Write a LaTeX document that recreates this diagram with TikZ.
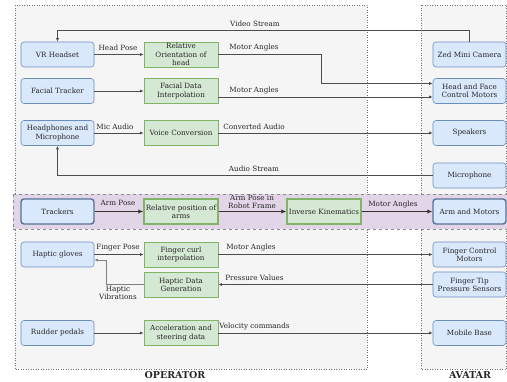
\documentclass[tikz,border=0pt]{standalone}
\usepackage{fontspec}
\setmainfont{DejaVu Serif}
\usetikzlibrary{arrows.meta,calc}
\definecolor{bfill}{HTML}{DAE8FC}
\definecolor{bdraw}{HTML}{6C8EBF}
\definecolor{gfill}{HTML}{D5E8D4}
\definecolor{gdraw}{HTML}{82B366}
\definecolor{pfill}{HTML}{E1D5E7}
\definecolor{panelfill}{HTML}{F5F5F5}
\definecolor{linec}{HTML}{4D4D4D}
\tikzset{
  every node/.style={font=\fontsize{7.2}{8.2}\selectfont, align=center, text=black!85},
  bluebox/.style={draw=bdraw, fill=bfill, rounded corners=3pt, minimum width=73pt, minimum height=25pt, inner sep=0pt, line width=0.6pt},
  greenbox/.style={draw=gdraw, fill=gfill, minimum width=74pt, minimum height=25pt, inner sep=0pt, line width=0.6pt},
  thickblue/.style={bluebox, draw=bdraw!80!black, line width=1.4pt},
  thickgreen/.style={greenbox, line width=1.4pt},
  arr/.style={draw=linec, line width=0.7pt, -{Latex[length=3.5pt,width=3pt]}},
  thickarr/.style={draw=black!80, line width=1.5pt, -{Latex[length=5pt,width=4.5pt]}},
  lightarr/.style={draw=black!50, line width=0.8pt, -{Latex[length=3.5pt,width=3pt]}},
  panel/.style={draw=black!55, fill=panelfill, dotted, line width=0.5pt},
  lbl/.style={inner sep=0.5pt},
  title/.style={font=\fontsize{9.5}{11}\selectfont\bfseries}
}
\begin{document}
\begin{tikzpicture}[x=1pt,y=-1pt]
\useasboundingbox (0,0) rectangle (507,381);
% panels
\draw[panel] (15,5) rectangle (367,369);
\draw[panel] (421,5) rectangle (506.5,369);
\fill[pfill] (13,194) rectangle (507,229);
\draw[black!45, dashed, line width=0.5pt] (13,194) -- (507,194) (13,229) -- (507,229) (13,194) -- (13,229);
\node[title] (op) at (175,375) {OPERATOR};
\node[title] (av) at (470,375) {AVATAR};
% left column
\node[bluebox] (vr) at (57.5,54.5) {VR Headset};
\node[bluebox] (ft) at (57.5,91) {Facial Tracker};
\node[bluebox] (hp) at (57.5,133) {Headphones and\\Microphone};
\node[thickblue] (tr) at (57.5,211.5) {Trackers};
\node[bluebox] (hg) at (57.5,254.5) {Haptic gloves};
\node[bluebox] (rp) at (57.5,333) {Rudder pedals};
% green column
\node[greenbox] (roh) at (181,54.5) {Relative\\Orientation of\\head};
\node[greenbox] (fdi) at (181,91) {Facial Data\\Interpolation};
\node[greenbox] (vc) at (181,133) {Voice Conversion};
\node[thickgreen] (rpa) at (181,211.5) {Relative position of\\arms};
\node[greenbox] (fci) at (181,254.5) {Finger curl\\interpolation};
\node[greenbox] (hdg) at (181,284.5) {Haptic Data\\Generation};
\node[greenbox] (asd) at (181,333) {Acceleration and\\steering data};
\node[thickgreen] (ik) at (324,211.5) {Inverse Kinematics};
% right column
\node[bluebox] (zed) at (469.5,54.5) {Zed Mini Camera};
\node[bluebox] (hfm) at (469.5,91) {Head and Face\\Control Motors};
\node[bluebox] (spk) at (469.5,133) {Speakers};
\node[bluebox] (mic) at (469.5,175.5) {Microphone};
\node[thickblue] (am) at (469.5,211.5) {Arm and Motors};
\node[bluebox] (fcm) at (469.5,254.5) {Finger Control\\Motors};
\node[bluebox] (ftp) at (469.5,284.5) {Finger Tip\\Pressure Sensors};
\node[bluebox] (mb) at (469.5,333) {Mobile Base};
% connectors
\coordinate (vs) at (57.5,30);
\draw[arr] (zed.north) |- (vs) -- (vr.north);
\node[lbl] (vsl) at (255,24) {Video Stream};
\draw[arr] (vr) -- (roh);
\node[lbl] (hpl) at (118,48) {Head Pose};
\coordinate (ma1) at (321,54.5);
\draw[arr] (roh.east) -- (ma1) |- ($(hfm.west)+(0,-7.5)$);
\node[lbl] (ma1l) at (254,48) {Motor Angles};
\draw[arr] (ft) -- (fdi);
\draw[arr] ($(fdi.east)+(0,6)$) -- ($(hfm.west)+(0,6)$);
\node[lbl] (ma2l) at (254,91) {Motor Angles};
\draw[arr] (hp) -- (vc);
\node[lbl] (mal) at (115,127) {Mic Audio};
\draw[arr] (vc) -- (spk);
\node[lbl] (cal) at (254,127) {Converted Audio};
\draw[arr] (mic.west) -| (hp.south);
\node[lbl] (asl) at (254,169) {Audio Stream};
\draw[thickarr] (tr) -- (rpa);
\node[lbl] (apl) at (118,203) {Arm Pose};
\draw[thickarr] (rpa) -- (ik);
\node[lbl] (aprl) at (252,202) {Arm Pose in\\Robot Frame};
\draw[thickarr] (ik) -- (am);
\node[lbl] (ma3l) at (393,205) {Motor Angles};
\draw[arr] (hg) -- (fci);
\node[lbl] (fpl) at (118,248) {Finger Pose};
\draw[arr] (fci) -- (fcm);
\node[lbl] (ma4l) at (251,248) {Motor Angles};
\draw[arr] (ftp) -- (hdg);
\node[lbl] (pvl) at (254.5,278) {Pressure Values};
\coordinate (hv) at (106,260);
\draw[lightarr] (hdg.west) -| (hv) -- ($(hg.east)+(0,5.5)$);
\node[lbl] (hvl) at (118,293) {Haptic\\Vibrations};
\draw[arr] (rp) -- (asd);
\draw[arr] (asd) -- (mb);
\node[lbl] (vcl) at (254.5,327) {Velocity commands};
\end{tikzpicture}
\end{document}
